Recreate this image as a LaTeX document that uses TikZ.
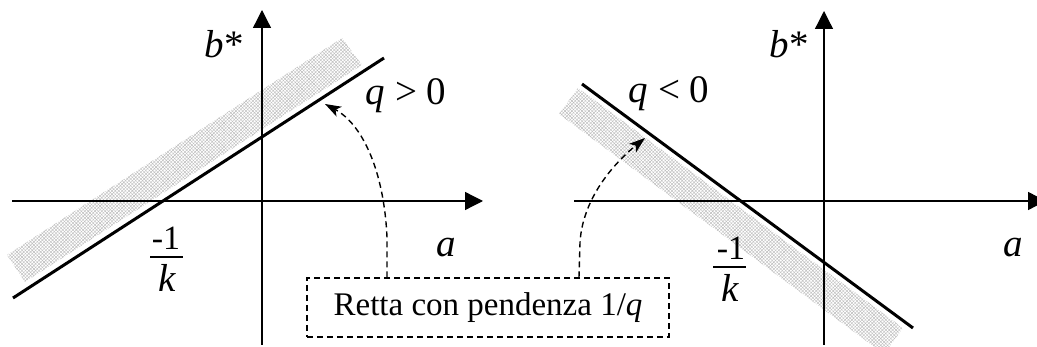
\documentclass[tikz,border=0pt]{standalone}
\usepackage{fontspec}
\setmainfont{Liberation Serif}
\usetikzlibrary{arrows.meta,patterns.meta}
\begin{document}
\begin{tikzpicture}[x=1pt,y=-1pt,
  axis/.style={line width=1.3pt,-{Triangle[length=18pt,width=18pt]}},
  trace/.style={line width=3pt},
  band/.style={preaction={pattern={Lines[angle=45,distance=2.4pt,line width=.4pt]},pattern color=gray!55},
               pattern={Lines[angle=-45,distance=2.4pt,line width=.4pt]},pattern color=gray!55},
  conn/.style={line width=1.4pt,dash pattern=on 6pt off 4pt,-{Stealth[length=16pt,width=11pt,inset=4pt]}},
  lbl/.style={inner sep=0pt,font=\fontsize{39}{39}\selectfont},
  num/.style={inner sep=0pt,font=\fontsize{34}{34}\selectfont},
  fracbar/.style={line width=1.5pt},
  notebox/.style={draw,line width=1.3pt,dash pattern=on 6pt off 4pt,minimum width=362pt,minimum height=59pt,inner sep=0pt,font=\fontsize{33}{33}\selectfont}
]
\useasboundingbox (0,0) rectangle (1037,347);

% ---------- left panel ----------
\fill[band] (7,255) -- (342,38) -- (362,65) -- (25,282) -- cycle;
\coordinate (xa0) at (12,201);  \coordinate (xa1) at (483,201);
\coordinate (ya0) at (262,345); \coordinate (ya1) at (262,10);
\draw[axis] (xa0) -- (xa1);
\draw[axis] (ya0) -- (ya1);
\coordinate (l0) at (13,298); \coordinate (l1) at (384,58);
\draw[trace] (l0) -- (l1);
\node[lbl,anchor=base] (bL) at (224,58) {\textit{b}*};
\node[lbl,anchor=base] (qL) at (406,105) {\textit{q}\hspace{0.25em}>\hspace{0.25em}0};
\node[lbl,anchor=base] (aL) at (446,257) {\textit{a}};
\node[num,anchor=base] (nL) at (166,250) {-1};
\node[lbl,anchor=base] (kL) at (167,292) {\textit{k}};
\coordinate (fL0) at (150,257); \coordinate (fL1) at (183,257);
\draw[fracbar] (fL0) -- (fL1);

% ---------- right panel ----------
\fill[band] (578,88) -- (903,328) -- (884,354) -- (559,114) -- cycle;
\coordinate (xb0) at (574,201); \coordinate (xb1) at (1046,201);
\coordinate (yb0) at (824,345); \coordinate (yb1) at (824,11);
\draw[axis] (xb0) -- (xb1);
\draw[axis] (yb0) -- (yb1);
\coordinate (r0) at (582,84); \coordinate (r1) at (913,328);
\draw[trace] (r0) -- (r1);
\node[lbl,anchor=base] (bR) at (789,58) {\textit{b}*};
\node[lbl,anchor=base] (qR) at (669,103) {\textit{q}\hspace{0.25em}<\hspace{0.25em}0};
\node[lbl,anchor=base] (aR) at (1013,257) {\textit{a}};
\node[num,anchor=base] (nR) at (731,260) {-1};
\node[lbl,anchor=base] (kR) at (730,302) {\textit{k}};
\coordinate (fR0) at (713,267); \coordinate (fR1) at (746,267);
\draw[fracbar] (fR0) -- (fR1);

% ---------- note box and connectors ----------
\node[notebox] (box) at (488,307.5) {Retta con pendenza 1/\textit{q}};
\coordinate (tL) at (325,104);
\coordinate (tR) at (645,138);
\draw[conn] ([xshift=-101pt]box.north) -- ++(0,-40) .. controls (384,170) and (362,124) .. (tL);
\draw[conn] ([xshift=91pt]box.north) -- ++(1,-35) .. controls (583,195) and (618,160) .. (tR);
\end{tikzpicture}
\end{document}
